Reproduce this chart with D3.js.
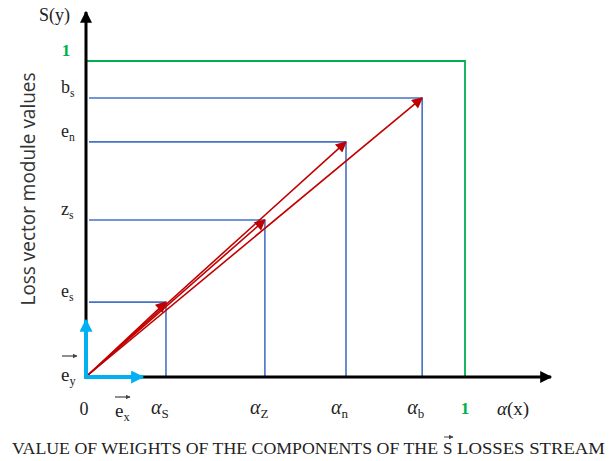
<!DOCTYPE html>
<html>
<head>
<meta charset="utf-8">
<script src="https://cdn.jsdelivr.net/npm/d3@7"></script>
<style>
  body { margin: 0; background: #fff; }
  svg text { font-family: "Liberation Serif", "DejaVu Serif", serif; fill: #222; }
</style>
</head>
<body>
<svg id="chart"></svg>
<script>
// points of the loss vectors (x = weight, y = module value)
const vecNames = ['s', 'z', 'n', 'b'];
const alphaValues = [0.211, 0.472, 0.686, 0.887];
const moduleValues = [0.237, 0.497, 0.744, 0.883];
const yTickLabels = [['e', 's'], ['z', 's'], ['e', 'n'], ['b', 's']];
const xTickLabels = [['\u03b1', 'S'], ['\u03b1', 'Z'], ['\u03b1', 'n'], ['\u03b1', 'b']];
// unit vectors e_x, e_y
const unitX = 0.15;
const unitY = 0.18;

const width = 616, height = 461;
const svg = d3.select('#chart').attr('width', width).attr('height', height);

const x = d3.scaleLinear().domain([0, 1]).range([86, 465]);
const y = d3.scaleLinear().domain([0, 1]).range([377, 61]);

const defs = svg.append('defs');
function marker(id, color, w, h) {
    defs.append('marker')
        .attr('id', id)
        .attr('viewBox', '0 0 10 10')
        .attr('refX', 9).attr('refY', 5)
        .attr('markerWidth', w).attr('markerHeight', h)
        .attr('markerUnits', 'userSpaceOnUse')
        .attr('orient', 'auto')
        .append('path').attr('d', 'M0,0 L10,5 L0,10 z').attr('fill', color);
}
marker('ax', '#000', 13, 12);
marker('red', '#c00000', 15, 11);
marker('cyan', '#00b0f0', 15, 13);
marker('small', '#444', 5, 5);

// guide boxes
const blue = '#4472c4';
const g = svg.append('g');
alphaValues.forEach((a, i) => {
    g.append('line').attr('x1', x(0) + 3).attr('x2', x(a)).attr('y1', y(moduleValues[i])).attr('y2', y(moduleValues[i]))
        .attr('stroke', blue).attr('stroke-width', 1.6);
    g.append('line').attr('x1', x(a)).attr('x2', x(a)).attr('y1', y(moduleValues[i])).attr('y2', y(0))
        .attr('stroke', blue).attr('stroke-width', 1.6);
});
// unit square in green
g.append('polyline')
    .attr('points', [[x(0), y(1)], [x(1), y(1)], [x(1), y(0)]].map(p => p.join(',')).join(' '))
    .attr('fill', 'none').attr('stroke', '#00b050').attr('stroke-width', 1.8);

// axes
svg.append('line').attr('x1', x(0)).attr('y1', y(0) + 1).attr('x2', x(0)).attr('y2', 12)
    .attr('stroke', '#000').attr('stroke-width', 3).attr('marker-end', 'url(#ax)');
svg.append('line').attr('x1', x(0) - 1).attr('y1', y(0)).attr('x2', 551).attr('y2', y(0))
    .attr('stroke', '#000').attr('stroke-width', 3).attr('marker-end', 'url(#ax)');

// red vectors from origin
alphaValues.forEach((a, i) => {
    svg.append('line')
        .attr('x1', x(0) + 2).attr('y1', y(0) - 2)
        .attr('x2', x(a)).attr('y2', y(moduleValues[i]))
        .attr('stroke', '#c00000').attr('stroke-width', 1.6)
        .attr('marker-end', 'url(#red)');
});

// unit vectors
svg.append('line').attr('x1', x(0)).attr('y1', y(0)).attr('x2', x(0)).attr('y2', y(unitY))
    .attr('stroke', '#00b0f0').attr('stroke-width', 4).attr('marker-end', 'url(#cyan)');
svg.append('line').attr('x1', x(0) - 2).attr('y1', y(0)).attr('x2', x(unitX)).attr('y2', y(0))
    .attr('stroke', '#00b0f0').attr('stroke-width', 4).attr('marker-end', 'url(#cyan)');

// labels with subscripts
function subLabel(px, py, main, sub, opts = {}) {
    const size = opts.size || 18;
    const t = svg.append('text').attr('x', px).attr('y', py)
        .attr('font-size', size).attr('text-anchor', opts.anchor || 'start');
    if (opts.italic) t.attr('font-style', 'italic');
    t.append('tspan').text(main);
    t.append('tspan').attr('dy', 4).attr('font-size', size * 0.65)
        .attr('font-style', 'normal').text(sub);
    return t;
}
function overArrow(x1, x2, yy) {
    svg.append('line').attr('x1', x1).attr('x2', x2).attr('y1', yy).attr('y2', yy)
        .attr('stroke', '#444').attr('stroke-width', 1.2).attr('marker-end', 'url(#small)');
}

yTickLabels.forEach((l, i) => {
    subLabel(61, y(moduleValues[i]) - 5, l[0], l[1]);
});
xTickLabels.forEach((l, i) => {
    subLabel(x(alphaValues[i]) - 15, 414, l[0], l[1], { italic: true, size: 20 });
});

// the two "1" labels
svg.append('text').attr('x', 66).attr('y', y(1) - 5).attr('font-size', 17).attr('font-weight', 'bold')
    .style('fill', '#00b050').attr('text-anchor', 'middle').text('1');
svg.append('text').attr('x', x(1)).attr('y', 414).attr('font-size', 17).attr('font-weight', 'bold')
    .style('fill', '#00b050').attr('text-anchor', 'middle').text('1');

// axis names
svg.append('text').attr('x', 39).attr('y', 21).attr('font-size', 18).text('S(y)');
const ax = svg.append('text').attr('x', 497).attr('y', 415).attr('font-size', 19);
ax.append('tspan').attr('font-style', 'italic').text('\u03b1');
ax.append('tspan').text('(x)');
svg.append('text').attr('x', 84).attr('y', 415).attr('font-size', 18).attr('text-anchor', 'middle').text('0');

// e_y and e_x with arrows on top
subLabel(61, 381, 'e', 'y', { size: 19 });
overArrow(62, 77, 356);
subLabel(115, 417, 'e', 'x', { size: 19 });
overArrow(115, 130, 397);

// y axis title
svg.append('text')
    .attr('transform', 'translate(35,189) rotate(-90)')
    .attr('text-anchor', 'middle')
    .attr('font-size', 20)
    .style('font-family', '"Open Sans", sans-serif')
    .style('fill', '#333')
    .attr('textLength', 233)
    .attr('lengthAdjust', 'spacingAndGlyphs')
    .text('Loss vector module values');

// bottom caption
svg.append('text').attr('x', 12).attr('y', 454).attr('font-size', 17)
    .attr('textLength', 426).attr('lengthAdjust', 'spacingAndGlyphs')
    .text('VALUE OF WEIGHTS OF THE COMPONENTS OF THE');
svg.append('text').attr('x', 443).attr('y', 454).attr('font-size', 17).text('S');
svg.append('line').attr('x1', 444).attr('x2', 453).attr('y1', 437).attr('y2', 437)
    .attr('stroke', '#444').attr('stroke-width', 1).attr('marker-end', 'url(#small)');
svg.append('text').attr('x', 457).attr('y', 454).attr('font-size', 17)
    .attr('textLength', 148).attr('lengthAdjust', 'spacingAndGlyphs')
    .text('LOSSES STREAM');
</script>
</body>
</html>
